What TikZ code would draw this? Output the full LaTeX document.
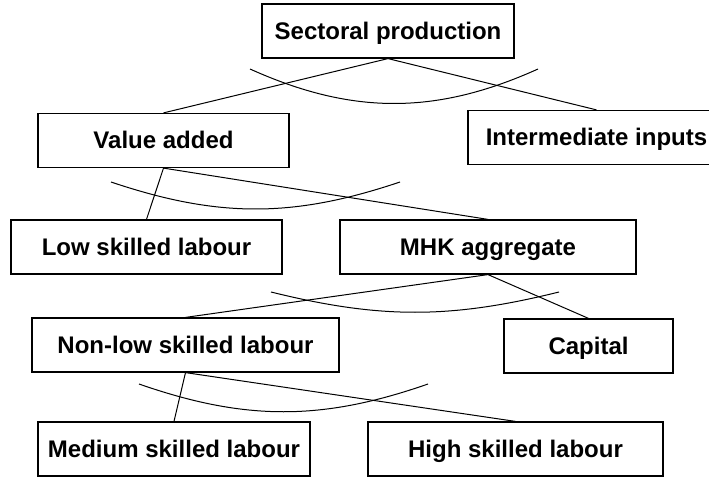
\documentclass[tikz,border=0pt]{standalone}
\usepackage{fontspec}
\setmainfont{Liberation Sans}

\begin{document}
\begin{tikzpicture}[
  x=1pt, y=-1pt,
  every node/.style = {align=center, font=\bfseries\fontsize{24}{28}\selectfont},
  block/.style = {draw, line width=1.2pt, inner sep=0pt, minimum height=54pt,
                  text height=17pt, text depth=0pt},
  link/.style = {draw, line width=1pt},
  elas/.style = {draw, line width=1pt}
]
\useasboundingbox (0,0) rectangle (709,478);
\clip (0,0) rectangle (709,478);

% nests, top to bottom
\node[block, minimum width=252pt] (prod) at (388,31) {Sectoral production};
\node[block, minimum width=251pt] (va) at (163.5,140.5) {Value added};
\node[block, minimum width=257pt] (ii) at (596.5,137.5) {Intermediate inputs};
\node[block, minimum width=271pt] (low) at (146.5,247) {Low skilled labour};
\node[block, minimum width=296pt] (mhk) at (488,247) {MHK aggregate};
\node[block, minimum width=307pt] (nonlow) at (185.5,345) {Non-low skilled labour};
\node[block, minimum width=169pt] (cap) at (588.5,346) {Capital};
\node[block, minimum width=272pt] (med) at (174,449) {Medium skilled labour};
\node[block, minimum width=295pt] (high) at (515.5,449) {High skilled labour};

% branches
\draw[link] (prod.south) -- (va.north);
\draw[link] (prod.south) -- (ii.north);
\draw[link] (va.south) -- (low.north);
\draw[link] (va.south) -- (mhk.north);
\draw[link] (mhk.south) -- (nonlow.north);
\draw[link] (mhk.south) -- (cap.north);
\draw[link] (nonlow.south) -- (med.north);
\draw[link] (nonlow.south) -- (high.north);

% substitution arcs
\draw[elas] (250,69) .. controls (352,115) and (436,115) .. (538,69);
\draw[elas] (111,182) .. controls (218,218) and (293,218) .. (400,182);
\draw[elas] (271,292) .. controls (380,319) and (450,319) .. (559,292);
\draw[elas] (139,384) .. controls (245,421) and (322,421) .. (428,384);
\end{tikzpicture}
\end{document}
